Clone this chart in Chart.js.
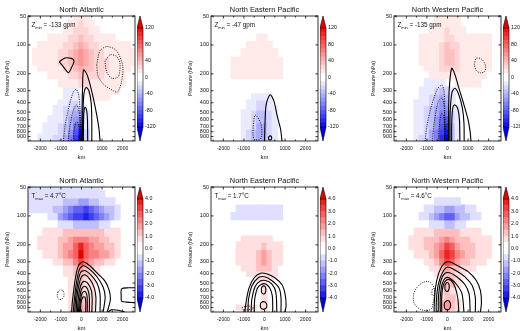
<!DOCTYPE html>
<html>
<head>
<meta charset="utf-8">
<script src="https://cdn.jsdelivr.net/npm/chart.js@4.4.1/dist/chart.umd.min.js"></script>
<style>
  html, body { margin: 0; padding: 0; background: #fff; width: 520px; height: 331px; overflow: hidden; }
  canvas { position: absolute; }
</style>
</head>
<body>
<script>
// grid of the composite fields (cell centres)
const kmCols = [-2500,-2250,-2000,-1750,-1500,-1250,-1000,-750,-500,-250,0,250,500,750,1000,1250,1500,1750,2000,2250,2500];
const pressureLevels = [50,60,70,85,100,120,150,175,200,250,300,350,400,450,500,600,700,800,900,1000];

// tick labels
const pressureTicks = [50,100,200,300,400,500,600,700,800,900];
const kmTicks = [-2000,-1000,0,1000,2000];
const zBarTicks = [-120,-80,-40,0,40,80,120];
const tBarTicks = [-4,-3,-2,-1,0,1,2,3,4];

// geopotential height anomaly (gpm), rows follow pressureLevels
const zNA = [
  [0,0,0,0,0,0,0,0,0,12,18,15,0,0,0,0,0,0,0,0,0],
  [0,0,0,0,0,0,0,0,12,15,22,18,12,0,0,0,0,0,0,0,0],
  [0,0,0,0,0,0,0,12,15,20,25,22,15,12,0,0,0,0,0,0,0],
  [0,0,0,0,12,12,15,18,22,28,32,28,22,18,15,12,12,0,0,0,0],
  [0,0,12,12,12,15,18,22,28,35,40,35,28,22,18,15,15,12,12,12,0],
  [0,12,12,12,15,18,20,25,32,42,50,42,32,25,20,18,15,15,12,12,12],
  [0,12,12,12,15,18,20,25,32,45,55,45,32,25,22,20,18,15,12,12,12],
  [0,0,12,12,12,15,18,22,28,38,45,38,30,25,22,20,18,15,12,12,0],
  [0,0,0,0,12,12,12,15,20,28,32,28,25,22,20,18,15,12,12,0,0],
  [0,0,0,0,0,0,12,12,12,15,20,20,18,18,15,15,12,12,12,0,0],
  [0,0,0,0,0,0,0,-12,-14,-12,0,12,12,12,12,12,12,12,0,0,0],
  [0,0,0,0,0,0,0,-12,-16,-15,-10,0,12,12,12,12,0,0,0,0,0],
  [0,0,0,0,0,0,-12,-16,-22,-25,-18,0,0,0,0,0,0,0,0,0,0],
  [0,0,0,0,0,-12,-13,-20,-28,-35,-28,0,0,0,0,0,0,0,0,0,0],
  [0,0,0,0,0,-12,-15,-22,-32,-42,-42,-12,0,0,0,0,0,0,0,0,0],
  [0,0,0,0,-12,-12,-18,-28,-40,-55,-65,-12,0,0,0,0,0,0,0,0,0],
  [0,0,0,-12,-12,-15,-22,-32,-48,-70,-90,-15,0,0,0,0,0,0,0,0,0],
  [0,0,0,-12,-13,-18,-25,-38,-55,-85,-115,-20,0,0,0,0,0,0,0,0,0],
  [0,0,-12,-12,-15,-20,-28,-42,-60,-95,-125,-25,0,0,0,0,0,0,0,0,0],
  [0,0,-12,-12,-15,-22,-30,-45,-65,-100,-130,-25,0,0,0,0,0,0,0,0,0]
];
const zNEP = [
  [0,0,0,0,0,0,0,0,0,0,0,0,0,0,0,0,0,0,0,0,0],
  [0,0,0,0,0,0,0,0,0,0,0,0,0,0,0,0,0,0,0,0,0],
  [0,0,0,0,0,0,0,0,0,0,0,0,0,0,0,0,0,0,0,0,0],
  [0,0,0,0,0,0,0,0,0,12,12,0,0,0,0,0,0,0,0,0,0],
  [0,0,0,0,0,0,0,12,12,13,14,14,0,0,0,0,0,0,0,0,0],
  [0,0,0,0,0,0,12,12,13,14,14,14,12,0,0,0,0,0,0,0,0],
  [0,0,0,0,12,12,12,13,13,14,14,14,13,12,0,0,0,0,0,0,0],
  [0,0,0,0,12,12,12,13,13,14,14,14,13,12,0,0,0,0,0,0,0],
  [0,0,0,0,12,12,12,13,13,14,14,14,13,12,0,0,0,0,0,0,0],
  [0,0,0,0,0,0,0,0,0,0,0,0,0,0,0,0,0,0,0,0,0],
  [0,0,0,0,0,0,0,0,0,0,0,0,0,0,0,0,0,0,0,0,0],
  [0,0,0,0,0,0,0,0,-12,-15,-15,-12,0,0,0,0,0,0,0,0,0],
  [0,0,0,0,0,0,0,-12,-15,-20,-22,-15,0,0,0,0,0,0,0,0,0],
  [0,0,0,0,0,0,0,-12,-18,-25,-25,-18,-12,0,0,0,0,0,0,0,0],
  [0,0,0,0,0,0,-12,-15,-20,-30,-30,-20,-12,0,0,0,0,0,0,0,0],
  [0,0,0,0,0,0,-12,-18,-25,-35,-38,-22,-12,0,0,0,0,0,0,0,0],
  [0,0,0,0,0,0,-12,-18,-28,-40,-42,-25,-13,0,0,0,0,0,0,0,0],
  [0,0,0,0,0,0,-12,-20,-30,-42,-45,-25,-13,0,0,0,0,0,0,0,0],
  [0,0,0,0,0,0,-13,-20,-30,-42,-47,-25,-13,0,0,0,0,0,0,0,0],
  [0,0,0,0,0,0,-13,-20,-30,-42,-46,-25,-13,0,0,0,0,0,0,0,0]
];
const zNWP = [
  [0,0,0,0,0,0,0,0,12,12,15,15,12,0,0,0,0,0,0,0,0],
  [0,0,0,0,0,0,0,0,12,15,18,18,12,0,0,0,0,0,0,0,0],
  [0,0,0,0,0,0,0,12,12,15,20,18,15,12,0,0,0,0,0,0,0],
  [0,0,0,0,0,12,12,15,15,18,25,22,18,15,12,12,12,12,12,0,0],
  [0,0,0,0,0,12,12,15,18,22,30,28,22,18,15,15,12,12,12,0,0],
  [0,0,0,0,0,12,12,15,18,25,35,30,22,18,15,15,12,12,12,0,0],
  [0,0,0,0,0,12,12,15,18,25,35,30,22,18,15,12,12,12,12,0,0],
  [0,0,0,0,0,0,12,12,15,20,28,25,20,15,13,12,12,12,12,0,0],
  [0,0,0,0,0,0,0,12,12,15,18,18,15,12,12,12,12,12,0,0,0],
  [0,0,0,0,0,0,-12,-12,-14,-12,0,0,12,12,12,12,12,0,0,0,0],
  [0,0,0,0,0,-12,-12,-18,-25,-30,-20,-12,0,0,0,0,0,0,0,0,0],
  [0,0,0,0,0,-12,-15,-22,-30,-40,-32,-12,0,0,0,0,0,0,0,0,0],
  [0,0,0,0,-12,-12,-18,-28,-38,-50,-45,-15,0,0,0,0,0,0,0,0,0],
  [0,0,0,0,-12,-15,-20,-30,-42,-58,-55,-18,-12,0,0,0,0,0,0,0,0],
  [0,0,0,0,-12,-15,-22,-32,-45,-65,-65,-20,-12,0,0,0,0,0,0,0,0],
  [0,0,0,0,-12,-18,-25,-35,-50,-75,-85,-25,-12,0,0,0,0,0,0,0,0],
  [0,0,0,0,-12,-18,-25,-38,-55,-85,-100,-30,-12,0,0,0,0,0,0,0,0],
  [0,0,0,0,-12,-18,-28,-40,-60,-95,-115,-32,-12,0,0,0,0,0,0,0,0],
  [0,0,0,0,-12,-20,-28,-42,-62,-100,-125,-35,-12,0,0,0,0,0,0,0,0],
  [0,0,0,0,-12,-20,-30,-45,-65,-105,-135,-35,-12,0,0,0,0,0,0,0,0]
];

// temperature anomaly (deg C)
const tNA = [
  [-0.6,-0.6,-0.6,-0.6,-0.6,-0.6,-0.6,-0.6,-0.6,-0.6,-0.6,-0.6,-0.6,-0.6,0,0,0,0,0,0,0],
  [-0.7,-0.7,-0.7,-0.7,-0.7,-0.7,-0.7,-0.8,-0.8,-0.9,-0.9,-0.9,-0.8,-0.7,-0.6,0,0,0,0,0,0],
  [-0.7,-0.7,-0.7,-0.7,-0.7,-0.8,-0.8,-1.0,-1.2,-1.4,-1.6,-1.6,-1.4,-1.2,-0.9,-0.7,-0.6,0,0,0,0],
  [-0.7,-0.7,-0.8,-0.8,-0.9,-1.1,-1.4,-1.8,-2.2,-2.6,-2.9,-3.0,-2.8,-2.4,-1.9,-1.4,-1.0,-0.6,0,0,0],
  [0,0,0,0,-0.6,-0.9,-1.5,-2.0,-2.6,-3.0,-3.4,-3.5,-3.3,-2.8,-2.2,-1.6,-1.0,-0.6,0,0,0],
  [0,0,0,0,0,0,-0.6,-0.7,-0.9,-1.1,-1.3,-1.3,-1.2,-1.0,-0.8,-0.6,0,0,0,0,0],
  [0,0,0,0.6,0.7,0.8,0.9,1.0,1.1,1.2,1.3,1.3,1.2,1.1,1.0,0.9,0.8,0.6,0,0,0],
  [0,0,0.6,0.7,0.8,0.9,1.0,1.3,1.6,2.0,2.4,2.0,1.7,1.5,1.3,1.1,0.9,0.7,0,0,0],
  [0,0,0.6,0.7,0.8,0.9,1.0,1.5,1.9,2.6,3.8,2.6,2.2,1.9,1.7,1.4,1.0,0.7,0,0,0],
  [0,0,0,0.6,0.7,0.8,1.0,1.5,2.0,2.8,4.5,2.8,2.3,2.0,1.8,1.5,1.0,0.6,0,0,0],
  [0,0,0,0,0,0.6,0.7,1.0,1.4,2.0,3.0,2.0,1.6,1.4,1.1,0.8,0.6,0,0,0,0],
  [0,0,0,0,0,0,0,0.7,0.9,1.2,1.5,1.2,1.0,0.7,0,0,0,0,0,0,0],
  [0,0,0,0,0,0,0,0.6,0.8,1.0,1.2,1.0,0.8,0.6,0,0,0,0,0,0,0],
  [0,0,0,0,0,0,0,0,0.7,0.9,1.1,0.9,0.7,0,0,0,0,0,0,0,0],
  [0,0,0,0,0,0,0,0,0.7,0.9,1.0,0.9,0.6,0,0,0,0,0,0,0,0],
  [0,0,0,0,0,0,0,0,0.6,0.8,1.0,0.8,0.6,0,0,0,0,0,0,0,0],
  [0,0,0,0,0,0,0,0,0.6,0.9,1.1,0.9,0.6,0,0,0,0,0,0,0,0],
  [0,0,0,0,0,0,0,0,0.7,1.0,1.4,1.0,0.6,0,0,0,0,0,0,0,0],
  [0,0,0,0,0,0,0,0,0.7,1.1,1.6,1.1,0.7,0,0,0,0,0,0,0,0],
  [0,0,0,0,0,0,0,0,0.6,1.0,1.4,1.0,0.6,0,0,0,0,0,0,0,0]
];
const tNEP = [
  [0,0,0,0,0,0,0,0,0,0,0,0,0,0,0,0,0,0,0,0,0],
  [0,0,0,0,0,0,0,0,0,0,0,0,0,0,0,0,0,0,0,0,0],
  [0,0,0,0,0,0,0,0,0,0,0,0,0,0,0,0,0,0,0,0,0],
  [0,0,0,0,0,-0.6,-0.6,-0.6,-0.6,-0.6,-0.6,-0.6,-0.6,-0.6,0,0,0,0,0,0,0],
  [0,0,0,0,-0.6,-0.6,-0.6,-0.6,-0.6,-0.6,-0.6,-0.6,-0.6,-0.6,0,0,0,0,0,0,0],
  [0,0,0,0,0,0,0,0,0,0,0,0,0,0,0,0,0,0,0,0,0],
  [0,0,0,0,0,0,0,0,0,0,0,0,0,0,0,0,0,0,0,0,0],
  [0,0,0,0,0,0,0.6,0.6,0.6,0.7,0.7,0.6,0,0,0,0,0,0,0,0,0],
  [0,0,0,0,0,0.6,0.7,0.7,0.8,0.9,1.0,0.9,0.7,0.6,0,0,0,0,0,0,0],
  [0,0,0,0,0,0.6,0.7,0.8,0.9,1.2,1.6,1.2,0.8,0.6,0,0,0,0,0,0,0],
  [0,0,0,0,0,0.6,0.7,0.8,0.9,1.2,1.7,1.2,0.8,0.6,0,0,0,0,0,0,0],
  [0,0,0,0,0,0,0.6,0.7,0.8,1.0,1.2,1.0,0.7,0,0,0,0,0,0,0,0],
  [0,0,0,0,0,0,0,0.6,0.6,0.8,0.9,0.8,0.6,0,0,0,0,0,0,0,0],
  [0,0,0,0,0,0,0,0,0,0.6,0.7,0.6,0,0,0,0,0,0,0,0,0],
  [0,0,0,0,0,0,0,0,0,0,0.6,0,0,0,0,0,0,0,0,0,0],
  [0,0,0,0,0,0,0,0,0,0,0.6,0,0,0,0,0,0,0,0,0,0],
  [0,0,0,0,0,0,0,0,0,0,0.6,0,0,0,0,0,0,0,0,0,0],
  [0,0,0,0,0,0,0,0,0,0,0.6,0,0,0,0,0,0,0,0,0,0],
  [0,0,0,0,0,0.6,0.7,0.7,0.6,0,0.8,0,0,0,0,0,0,0,0,0,0],
  [0,0,0,0,0,0,0.6,0.6,0,0,0.7,0,0,0,0,0,0,0,0,0,0]
];
const tNWP = [
  [0,0,0,0,0,0,0,0,0,0,0,0,0,0,0,0,0,0,0,0,0],
  [0,0,0,0,0,0,0,0,0,0,0,0,0,0,0,0,0,0,0,0,0],
  [0,0,0,0,0,0,0,0,-0.6,-0.6,-0.7,-0.7,-0.6,0,0,0,0,0,0,0,0],
  [0,0,0,0,0,0,-0.6,-0.8,-1.0,-1.4,-1.7,-1.6,-1.3,-1.0,-0.8,-0.6,0,0,0,0,0],
  [0,0,0,0,0,-0.6,-0.8,-1.1,-1.5,-2.2,-2.7,-2.5,-1.9,-1.4,-1.0,-0.8,-0.6,0,0,0,0],
  [0,0,0,0,0,0,0,-0.6,-0.7,-0.9,-1.0,-1.0,-0.8,-0.6,0,0,0,0,0,0,0],
  [0,0,0,0,0.6,0.7,0.8,0.9,1.0,1.2,1.4,1.3,1.1,0.9,0.8,0.7,0.6,0,0,0,0],
  [0,0,0,0.6,0.7,0.8,1.0,1.1,1.3,1.7,2.3,1.9,1.4,1.1,1.0,0.9,0.8,0.7,0.6,0,0],
  [0,0,0,0.6,0.7,0.8,1.0,1.2,1.6,2.2,3.0,2.5,1.8,1.3,1.1,1.0,0.9,0.8,0.6,0,0],
  [0,0,0,0,0.6,0.7,0.9,1.2,1.6,2.5,3.8,3.0,2.0,1.5,1.2,1.0,0.9,0.7,0.6,0,0],
  [0,0,0,0,0,0,0.7,0.9,1.3,2.0,3.2,2.5,1.7,1.3,1.0,0.8,0.7,0.6,0,0,0],
  [0,0,0,0,0,0,0,0.6,0.8,1.2,1.6,1.4,1.1,0.9,0.7,0.6,0,0,0,0,0],
  [0,0,0,0,0,0,0,0,0.6,0.9,1.2,1.1,0.8,0.6,0,0,0,0,0,0,0],
  [0,0,0,0,0,0,0,0,0,0.8,1.1,1.0,0.6,0,0,0,0,0,0,0,0],
  [0,0,0,0,0,0,0,0,0,0.8,1.1,1.0,0.6,0,0,0,0,0,0,0,0],
  [0,0,0,0,0,0,0,0,0,0.8,1.0,0.9,0,0,0,0,0,0,0,0,0],
  [0,0,0,0,0,0,0,0,0,0.9,1.2,1.0,0,0,0,0,0,0,0,0,0],
  [0,0,0,0,0,0,0,0,0,1.0,1.5,1.2,0.6,0,0,0,0,0,0,0,0],
  [0,0,0,0,0,0,0,0,0,1.0,1.6,1.2,0.6,0,0,0,0,0,0,0,0],
  [0,0,0,0,0,0,0,0,0,0.8,1.2,0.9,0,0,0,0,0,0,0,0,0]
];

// contour lines, [km, hPa]; solid = positive, dotted = negative
const zNAsolid = [
  [[-1080,150],[-800,137],[-500,138],[-365,146],[-500,175],[-640,195],[-850,172],[-1080,150]],
  [[30,1000],[30,500],[50,280],[100,182],[250,200],[420,260],[600,380],[750,550],[850,750],[900,1000]],
  [[60,1000],[70,500],[120,320],[230,278],[360,300],[470,400],[500,600],[500,1000]],
  [[90,1000],[100,600],[130,470],[180,445],[250,480],[290,600],[300,1000]]
];
const zNAdotted = [
  [[-880,1000],[-800,700],[-620,450],[-400,310],[-270,290],[-150,320],[-80,450],[-50,700],[-40,1000]],
  [[-650,1000],[-560,700],[-400,480],[-250,420],[-150,460],[-80,600],[-60,1000]],
  [[-400,1000],[-350,750],[-250,630],[-150,660],[-90,800],[-80,1000]],
  [[740,160],[900,115],[1250,104],[1700,115],[2000,165],[1950,240],[1750,310],[1550,300],[1100,260],[800,210],[740,160]],
  [[1140,149],[1385,127],[1710,132],[1870,155],[1790,214],[1470,222],[1220,190],[1140,149]]
];
const zNEPsolid = [
  [[0,1000],[20,700],[80,420],[270,330],[450,380],[620,550],[780,750],[850,1000]],
  [[200,905],[270,885],[340,905],[340,955],[270,975],[200,955],[200,905]]
];
const zNEPdotted = [
  [[-545,700],[-500,570],[-460,535],[-300,580],[-150,700],[-140,900],[-250,970],[-500,960],[-560,850],[-545,700]]
];
const zNWPsolid = [
  [[50,1000],[50,600],[80,300],[200,175],[350,200],[550,280],[800,420],[1000,600],[1100,800],[1140,1000]],
  [[120,1000],[130,500],[220,310],[365,283],[550,330],[720,450],[800,650],[810,1000]],
  [[200,1000],[210,600],[270,440],[365,421],[500,460],[580,600],[600,1000]]
];
const zNWPdotted = [
  [[-1090,1000],[-1000,700],[-800,450],[-500,290],[-280,262],[-170,300],[-130,500],[-120,1000]],
  [[-730,1000],[-650,650],[-450,390],[-280,358],[-180,400],[-140,600],[-130,1000]],
  [[-450,1000],[-400,700],[-300,520],[-200,540],[-150,700],[-140,1000]],
  [[1300,160],[1400,138],[1650,140],[1850,165],[1800,190],[1600,195],[1400,185],[1300,160]]
];
const tNAsolid = [
  [[-480,1000],[-450,800],[-380,600],[-300,450],[-150,330],[80,300],[400,330],[800,400],[1150,480],[1350,600],[1400,750],[1250,1000]],
  [[-400,1000],[-350,750],[-250,500],[-100,360],[100,330],[400,360],[750,430],[1050,550],[1150,700],[1050,1000]],
  [[-330,1000],[-280,700],[-180,500],[-50,390],[150,370],[450,410],[750,500],[900,650],[900,1000]],
  [[-260,1000],[-220,700],[-120,520],[0,430],[170,410],[420,460],[620,560],[700,700],[680,1000]],
  [[-200,1000],[-150,700],[-50,540],[100,480],[300,500],[480,600],[520,750],[500,1000]],
  [[-150,1000],[-100,750],[0,580],[150,540],[300,580],[380,700],[380,1000]],
  [[-100,1000],[-60,780],[40,630],[170,610],[270,680],[280,1000]],
  [[-60,1000],[-20,800],[70,700],[170,700],[210,800],[200,1000]],
  [[2600,560],[2300,560],[1950,575],[1930,680],[1950,770],[2200,790],[2600,800]],
  [[1300,1000],[1450,950],[1800,960],[2100,1000]]
];
const tNAdotted = [
  [[-1150,620],[-1050,590],[-900,600],[-850,680],[-950,730],[-1100,740],[-1180,680],[-1150,620]]
];
const tNEPsolid = [
  [[-950,1000],[-900,800],[-750,560],[-500,440],[-200,395],[100,400],[500,440],[850,520],[1000,650],[1050,850],[1000,1000]],
  [[-800,1000],[-780,750],[-600,530],[-300,440],[0,430],[350,470],[700,560],[800,700],[800,1000]],
  [[-650,1000],[-620,750],[-450,540],[-200,475],[50,470],[350,510],[550,620],[600,1000]],
  [[-500,1000],[-480,750],[-350,570],[-150,515],[50,510],[250,560],[380,680],[400,1000]],
  [[-150,560],[-60,535],[40,550],[60,610],[-30,650],[-140,625],[-150,560]],
  [[-200,810],[-60,780],[90,810],[100,900],[-50,940],[-190,900],[-200,810]]
];
const tNEPdotted = [
  [[-1100,900],[-850,870],[-600,880],[-550,920],[-800,950],[-1050,940],[-1100,900]]
];
const tNWPsolid = [
  [[-650,1000],[-640,800],[-580,550],[-400,380],[-150,310],[100,300],[500,330],[1000,380],[1400,470],[1600,600],[1650,800],[1600,1000]],
  [[-550,1000],[-540,750],[-450,520],[-250,390],[0,340],[400,370],[850,430],[1200,530],[1350,700],[1350,1000]],
  [[-450,1000],[-440,700],[-330,480],[-150,400],[100,390],[450,430],[850,520],[1050,650],[1100,1000]],
  [[-350,1000],[-350,700],[-250,500],[-80,440],[150,450],[450,520],[700,640],[800,1000]],
  [[-280,1000],[-280,700],[-200,520],[-30,462],[180,470],[380,560],[500,720],[550,1000]],
  [[-130,530],[-40,495],[60,510],[80,570],[0,610],[-110,595],[-130,530]],
  [[-150,800],[0,760],[130,800],[130,900],[0,950],[-150,900],[-150,800]]
];
const tNWPdotted = [
  [[-1650,650],[-1500,560],[-1250,500],[-1000,480],[-800,500],[-650,560],[-620,650],[-700,800],[-750,900],[-900,960],[-1250,950],[-1500,880],[-1650,780],[-1650,650]],
  [[-760,590],[-680,570],[-620,610],[-650,670],[-740,670],[-760,590]]
];

const FONT = '"Liberation Sans", Arial, Helvetica, sans-serif';
Chart.defaults.font.family = FONT;
Chart.defaults.color = '#111';

const SPEC = {
  z: { step: 10, bins: 12, vmax: 120, ticks: zBarTicks, fmt: v => String(v) },
  t: { step: 0.5, bins: 8, vmax: 4, ticks: tBarTicks, fmt: v => v.toFixed(1) }
};

const panels = [
  { title: 'North Atlantic', field: zNA, solid: zNAsolid, dotted: zNAdotted, kind: 'z', sym: 'Z', sub: 'min', text: ' = -133 gpm' },
  { title: 'North Eastern Pacific', field: zNEP, solid: zNEPsolid, dotted: zNEPdotted, kind: 'z', sym: 'Z', sub: 'min', text: ' = -47 gpm' },
  { title: 'North Western Pacific', field: zNWP, solid: zNWPsolid, dotted: zNWPdotted, kind: 'z', sym: 'Z', sub: 'min', text: ' = -135 gpm' },
  { title: 'North Atlantic', field: tNA, solid: tNAsolid, dotted: tNAdotted, kind: 't', sym: 'T', sub: 'max', text: ' = 4.7°C' },
  { title: 'North Eastern Pacific', field: tNEP, solid: tNEPsolid, dotted: tNEPdotted, kind: 't', sym: 'T', sub: 'max', text: ' = 1.7°C' },
  { title: 'North Western Pacific', field: tNWP, solid: tNWPsolid, dotted: tNWPdotted, kind: 't', sym: 'T', sub: 'max', text: ' = 4.6°C' }
];

const colLeft = [28, 211, 394];
const rowTop = [16, 187];
const plotW = 107;

function shade(v, spec) {
  const k = Math.min(Math.floor(Math.abs(v) / spec.step + 1e-9), spec.bins);
  if (!k) return null;
  const t = k / spec.bins;
  const lo = Math.round(255 * (1 - t)), hi = Math.round(255 - 25 * t * t);
  return v > 0 ? `rgb(${hi},${lo},${lo})` : `rgb(${lo},${lo},${hi})`;
}

function makeCanvas(left, top, w, h) {
  const c = document.createElement('canvas');
  c.width = w; c.height = h;
  c.style.left = left + 'px'; c.style.top = top + 'px';
  document.body.appendChild(c);
  return c;
}

function cellSets(field, spec) {
  const n = pressureLevels.length;
  return field.map((row, i) => {
    const top = i === 0 ? pressureLevels[0] : Math.sqrt(pressureLevels[i - 1] * pressureLevels[i]);
    const bot = i === n - 1 ? pressureLevels[i] : Math.sqrt(pressureLevels[i] * pressureLevels[i + 1]);
    const data = [], colors = [];
    row.forEach((v, j) => {
      const c = shade(v, spec);
      if (c) { data.push({ x: kmCols[j], y: [bot, top] }); colors.push(c); }
    });
    return { type: 'bar', data, backgroundColor: colors, borderWidth: 0, grouped: false,
      barPercentage: 1, categoryPercentage: 1, inflateAmount: 0.6, order: 2 };
  });
}

function lineSets(list, dotted) {
  return list.map(pts => ({
    type: 'line', data: pts.map(([x, p]) => ({ x, y: p })),
    borderColor: '#000', borderWidth: dotted ? 0.9 : 1.1, borderDash: dotted ? [1, 1.3] : [],
    pointRadius: 0, tension: 0.3, fill: false, order: 1
  }));
}

const panelDeco = {
  id: 'panelDeco',
  afterDatasetsDraw(chart, args, o) {
    const { ctx, chartArea: a, scales: { x, y } } = chart;
    ctx.save();
    ctx.strokeStyle = '#000';
    ctx.lineWidth = 0.8;
    ctx.strokeRect(a.left, a.top, a.right - a.left, a.bottom - a.top);
    ctx.beginPath();
    for (let v = -2500; v <= 2500; v += 500) {
      const px = x.getPixelForValue(v), L = v % 1000 === 0 ? 2.5 : 1.5;
      ctx.moveTo(px, a.bottom); ctx.lineTo(px, a.bottom - L);
      ctx.moveTo(px, a.top); ctx.lineTo(px, a.top + L);
    }
    pressureTicks.forEach(p => {
      const py = y.getPixelForValue(p);
      ctx.moveTo(a.left, py); ctx.lineTo(a.left + 2.5, py);
      ctx.moveTo(a.right, py); ctx.lineTo(a.right - 2.5, py);
    });
    ctx.stroke();

    ctx.fillStyle = '#111';
    ctx.textAlign = 'center';
    ctx.textBaseline = 'middle';
    ctx.font = `7.4px ${FONT}`;
    ctx.fillText(o.title, (a.left + a.right) / 2, a.top - 6.5);

    ctx.textAlign = 'left';
    ctx.textBaseline = 'alphabetic';
    const x0 = a.left + 3.5, y0 = a.top + 11;
    ctx.font = `6.3px ${FONT}`;
    ctx.fillText(o.sym, x0, y0);
    const w = ctx.measureText(o.sym).width;
    ctx.font = `4px ${FONT}`;
    ctx.fillText("'", x0 + w + 0.3, y0 - 2.6);
    ctx.fillText(o.sub, x0 + w, y0 + 1.6);
    const ws = ctx.measureText(o.sub).width;
    ctx.font = `6.3px ${FONT}`;
    ctx.fillText(o.text, x0 + w + ws, y0);
    ctx.restore();
  }
};

const barDeco = {
  id: 'barDeco',
  afterDraw(chart, args, o) {
    const { ctx, chartArea: a } = chart;
    const mid = (a.left + a.right) / 2;
    ctx.save();
    ctx.fillStyle = o.top;
    ctx.beginPath(); ctx.moveTo(a.left, a.top); ctx.lineTo(mid, a.top - o.up); ctx.lineTo(a.right, a.top); ctx.closePath(); ctx.fill();
    ctx.fillStyle = o.bottom;
    ctx.beginPath(); ctx.moveTo(a.left, a.bottom); ctx.lineTo(mid, a.bottom + o.down); ctx.lineTo(a.right, a.bottom); ctx.closePath(); ctx.fill();
    ctx.strokeStyle = '#000';
    ctx.lineWidth = 0.6;
    ctx.beginPath();
    ctx.moveTo(a.left, a.top); ctx.lineTo(mid, a.top - o.up); ctx.lineTo(a.right, a.top);
    ctx.lineTo(a.right, a.bottom); ctx.lineTo(mid, a.bottom + o.down); ctx.lineTo(a.left, a.bottom); ctx.closePath();
    ctx.moveTo(a.left, a.top); ctx.lineTo(a.right, a.top);
    ctx.moveTo(a.left, a.bottom); ctx.lineTo(a.right, a.bottom);
    ctx.stroke();
    ctx.restore();
  }
};

panels.forEach((pn, i) => {
  const col = i % 3, row = Math.floor(i / 3);
  const spec = SPEC[pn.kind];
  const L = colLeft[col], T = rowTop[row];

  const cv = makeCanvas(L - 28, T - 16, 136, 165);
  new Chart(cv, {
    type: 'bar',
    data: { datasets: [...lineSets(pn.solid, false), ...lineSets(pn.dotted, true), ...cellSets(pn.field, spec)] },
    options: {
      responsive: false, animation: false, devicePixelRatio: 1, events: [],
      layout: { padding: { top: 16, right: 1, left: 0, bottom: 0 } },
      plugins: {
        legend: { display: false }, tooltip: { enabled: false },
        panelDeco: { title: pn.title, sym: pn.sym, sub: pn.sub, text: pn.text }
      },
      scales: {
        x: {
          type: 'linear', min: -2600, max: 2600, offset: false,
          afterBuildTicks: s => { s.ticks = kmTicks.map(v => ({ value: v })); },
          afterFit: s => { s.height = 24; },
          grid: { display: false, drawTicks: false }, border: { display: false },
          ticks: { autoSkip: false, maxRotation: 0, padding: 5, font: { size: 5 }, callback: v => String(v) },
          title: { display: true, text: 'km', font: { size: 6 }, padding: { top: 0, bottom: 4.4 } }
        },
        y: {
          type: 'logarithmic', reverse: true, min: 50, max: 1000,
          afterBuildTicks: s => { s.ticks = pressureTicks.map(v => ({ value: v })); },
          afterFit: s => { s.width = 28; },
          grid: { display: false, drawTicks: false }, border: { display: false },
          ticks: { autoSkip: false, padding: 2, font: { size: 5.5 }, callback: v => String(v) },
          title: { display: true, text: 'Pressure (hPa)', font: { size: 5.2 }, padding: { top: 4, bottom: 0 } }
        }
      }
    },
    plugins: [panelDeco]
  });

  // colour bar
  const bins = [];
  for (let lo = -spec.vmax; lo < spec.vmax - 1e-9; lo += spec.step) {
    bins.push({
      data: [[lo, lo + spec.step]], backgroundColor: shade(lo + spec.step / 2, spec) || '#fff',
      borderWidth: 0, grouped: false, barPercentage: 1, categoryPercentage: 1, inflateAmount: 0.4
    });
  }
  const cb = makeCanvas(L + plotW + 2, T - 16, 30, 165);
  new Chart(cb, {
    type: 'bar',
    data: { labels: [''], datasets: bins },
    options: {
      responsive: false, animation: false, devicePixelRatio: 1, events: [],
      layout: { padding: { top: 28, bottom: 38, left: 0, right: 0 } },
      plugins: {
        legend: { display: false }, tooltip: { enabled: false },
        barDeco: { top: shade(spec.vmax, spec), bottom: shade(-spec.vmax, spec), up: 12, down: 14 }
      },
      scales: {
        x: { display: false },
        y: {
          position: 'right', min: -spec.vmax, max: spec.vmax,
          afterBuildTicks: s => { s.ticks = spec.ticks.map(v => ({ value: v })); },
          afterFit: s => { s.width = 24; },
          grid: { display: false, drawTicks: false }, border: { display: false },
          ticks: { autoSkip: false, padding: 2, font: { size: 5.3 }, callback: v => spec.fmt(v) }
        }
      }
    },
    plugins: [barDeco]
  });
});
</script>
</body>
</html>
